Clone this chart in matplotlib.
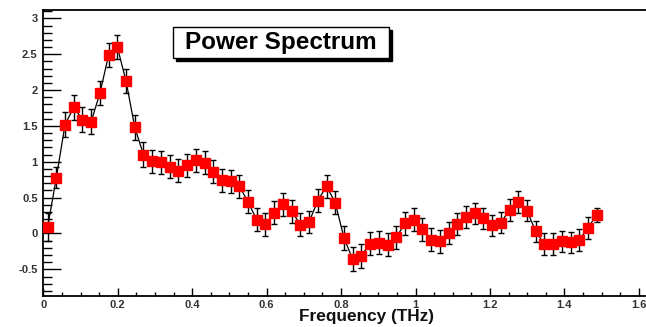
import matplotlib
matplotlib.use('Agg')
import matplotlib.pyplot as plt
from matplotlib.patches import Rectangle
from matplotlib.ticker import MultipleLocator

plt.rcParams['font.family'] = ['Liberation Sans', 'DejaVu Sans']

freq = [0.0117, 0.0351, 0.0585, 0.0819, 0.1053, 0.1287, 0.1522, 0.1756,
        0.1990, 0.2224, 0.2458, 0.2692, 0.2926, 0.3160, 0.3394, 0.3628,
        0.3863, 0.4097, 0.4331, 0.4565, 0.4799, 0.5033, 0.5267, 0.5501,
        0.5735, 0.5969, 0.6204, 0.6438, 0.6672, 0.6906, 0.7140, 0.7374,
        0.7608, 0.7842, 0.8076, 0.8310, 0.8545, 0.8779, 0.9013, 0.9247,
        0.9481, 0.9715, 0.9949, 1.0183, 1.0417, 1.0651, 1.0886, 1.1120,
        1.1354, 1.1588, 1.1822, 1.2056, 1.2290, 1.2524, 1.2758, 1.2992,
        1.3227, 1.3461, 1.3695, 1.3929, 1.4163, 1.4397, 1.4631, 1.4865]

power = [0.09, 0.78, 1.52, 1.76, 1.59, 1.56, 1.96, 2.49,
         2.60, 2.125, 1.48, 1.10, 1.01, 0.995, 0.93, 0.875,
         0.95, 1.02, 0.99, 0.86, 0.745, 0.73, 0.66, 0.44,
         0.19, 0.13, 0.29, 0.41, 0.31, 0.125, 0.16, 0.46,
         0.66, 0.43, -0.06, -0.36, -0.31, -0.14, -0.13, -0.16,
         -0.055, 0.14, 0.19, 0.06, -0.09, -0.11, 0.01, 0.13,
         0.23, 0.28, 0.21, 0.115, 0.15, 0.33, 0.44, 0.32,
         0.03, -0.15, -0.15, -0.11, -0.125, -0.09, 0.08, 0.26]

err = [0.19, 0.15, 0.17, 0.17, 0.17, 0.17, 0.17, 0.17,
       0.17, 0.17, 0.17, 0.17, 0.16, 0.16, 0.16, 0.16,
       0.16, 0.16, 0.16, 0.16, 0.16, 0.16, 0.16, 0.16,
       0.16, 0.16, 0.16, 0.16, 0.16, 0.16, 0.16, 0.16,
       0.16, 0.16, 0.17, 0.17, 0.17, 0.16, 0.16, 0.16,
       0.16, 0.16, 0.16, 0.16, 0.16, 0.16, 0.15, 0.15,
       0.15, 0.15, 0.15, 0.15, 0.15, 0.15, 0.15, 0.15,
       0.15, 0.15, 0.15, 0.15, 0.15, 0.15, 0.15, 0.10]

fig = plt.figure(figsize=(6.46, 3.27), dpi=100)
fig.patch.set_facecolor('white')
ax = fig.add_axes([0.067, 0.0948, 0.933, 0.8746])

ax.plot(freq, power, color='black', lw=0.9, zorder=2)
ax.errorbar(freq, power, yerr=err, fmt='none', ecolor='black',
            elinewidth=1.0, capsize=2.5, capthick=1.0, zorder=3)
ax.plot(freq, power, ls='none', marker='s', ms=6.6, color='#ff0000',
        mec='#ff0000', zorder=4)

ax.set_xlim(0, 1.619)
ax.set_ylim(-0.872, 3.118)

for s in ['left', 'bottom', 'top']:
    ax.spines[s].set_linewidth(1.3)
    ax.spines[s].set_color('black')
ax.spines['right'].set_visible(False)

ax.xaxis.set_major_locator(MultipleLocator(0.2))
ax.xaxis.set_minor_locator(MultipleLocator(0.05))
ax.yaxis.set_major_locator(MultipleLocator(0.5))
ax.yaxis.set_minor_locator(MultipleLocator(0.1))
ax.tick_params(axis='y', which='major', direction='in', length=13, width=1.0,
               left=True, right=False, labelsize=8, pad=4, labelcolor='#333333')
ax.tick_params(axis='y', which='minor', direction='in', length=6.5, width=1.0,
               left=True, right=False)
ax.tick_params(axis='x', which='major', direction='in', length=6, width=1.0,
               bottom=True, top=False, labelsize=8, pad=3, labelcolor='#333333')
ax.tick_params(axis='x', which='minor', direction='in', length=3, width=1.0,
               bottom=True, top=False)

def fmt(v, pos):
    return '%g' % round(v, 2)
ax.xaxis.set_major_formatter(matplotlib.ticker.FuncFormatter(fmt))
ax.yaxis.set_major_formatter(matplotlib.ticker.FuncFormatter(fmt))
for lab in ax.get_xticklabels() + ax.get_yticklabels():
    lab.set_fontweight('bold')

# x-axis title
fig.text(366.5 / 646, 1 - 317 / 327, 'Frequency (THz)', ha='center', va='center',
         fontsize=12.4, fontweight='bold', color='#111111')

# title box with shadow
W, H = 646.0, 327.0
bx0, bx1, by0, by1 = 173, 389, 27, 58
shadow = Rectangle(((bx0 + 3) / W, 1 - (by1 + 3) / H), (bx1 - bx0) / W, (by1 - by0) / H,
                   transform=fig.transFigure, facecolor='black', edgecolor='black', zorder=10)
box = Rectangle((bx0 / W, 1 - by1 / H), (bx1 - bx0) / W, (by1 - by0) / H,
                transform=fig.transFigure, facecolor='white', edgecolor='black',
                lw=1.0, zorder=11)
fig.patches.extend([shadow, box])
fig.text((bx0 + bx1) / 2 / W, 1 - (by0 + by1) / 2 / H, 'Power Spectrum', ha='center',
         va='center', fontsize=17.5, fontweight='bold', color='black', zorder=12)

fig.savefig('out.png', dpi=100, facecolor='white')
